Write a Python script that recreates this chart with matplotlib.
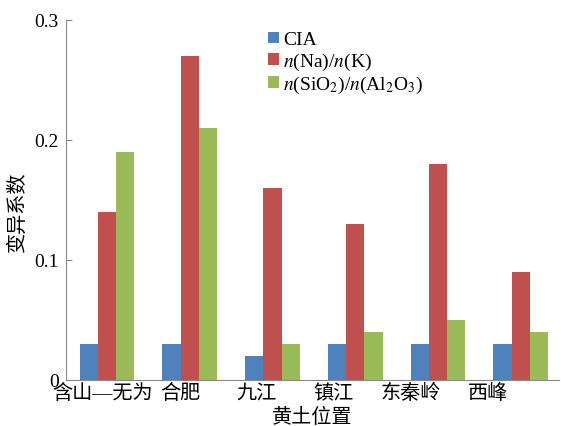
import matplotlib
matplotlib.use("Agg")
import matplotlib.pyplot as plt
import numpy as np

plt.rcParams["font.family"] = ["Liberation Serif", "Noto Sans CJK SC"]
plt.rcParams["mathtext.fontset"] = "stix"

sites = ["含山—无为", "合肥", "九江", "镇江", "东秦岭", "西峰"]
cia = [0.03, 0.03, 0.02, 0.03, 0.03, 0.03]
na_k = [0.14, 0.27, 0.16, 0.13, 0.18, 0.09]
si_al = [0.19, 0.21, 0.03, 0.04, 0.05, 0.04]

series = [
    (cia, "CIA", "#4F81BD"),
    (na_k, r"$n$(Na)/$n$(K)", "#C0504D"),
    (si_al, r"$n$(SiO$_2$)/$n$(Al$_2$O$_3$)", "#9BBB59"),
]

fig = plt.figure(figsize=(5.61, 4.27), dpi=100)
ax = fig.add_axes([0.117, 0.108, 0.879, 0.843])

x = np.arange(len(sites))
w = 0.22
for k, (vals, label, color) in enumerate(series):
    ax.bar(x + (k - 1) * w, vals, width=w, color=color, label=label)

ax.set_xlim(-0.5, 5.46)
ax.set_ylim(0, 0.3)
ax.set_yticks([0, 0.1, 0.2, 0.3])
ax.set_yticklabels(["0", "0.1", "0.2", "0.3"], fontsize=14)

# category labels sit slightly left of the bar groups, as in the source
label_pos = np.arange(len(sites)) * 0.93 - 0.05
ax.set_xticks(label_pos)
ax.set_xticklabels(sites, fontsize=14.5)
ax.tick_params(axis="x", length=0, pad=3)
ax.tick_params(axis="y", direction="in", length=4, color="#888888", pad=5)

for side in ("top", "right"):
    ax.spines[side].set_visible(False)
for side in ("left", "bottom"):
    ax.spines[side].set_color("#888888")

ax.set_xlabel("黄土位置", fontsize=14.5)
ax.xaxis.set_label_coords(0.5, -0.078)
ax.set_ylabel("变异系数", fontsize=14.5)
ax.yaxis.set_label_coords(-0.076, 0.47)

ax.legend(loc="upper left", bbox_to_anchor=(0.395, 0.99), frameon=False,
          fontsize=14, handlelength=0.55, handleheight=0.55, handletextpad=0.2,
          labelspacing=0.12, borderaxespad=0)

fig.savefig("out.png", dpi=100)
